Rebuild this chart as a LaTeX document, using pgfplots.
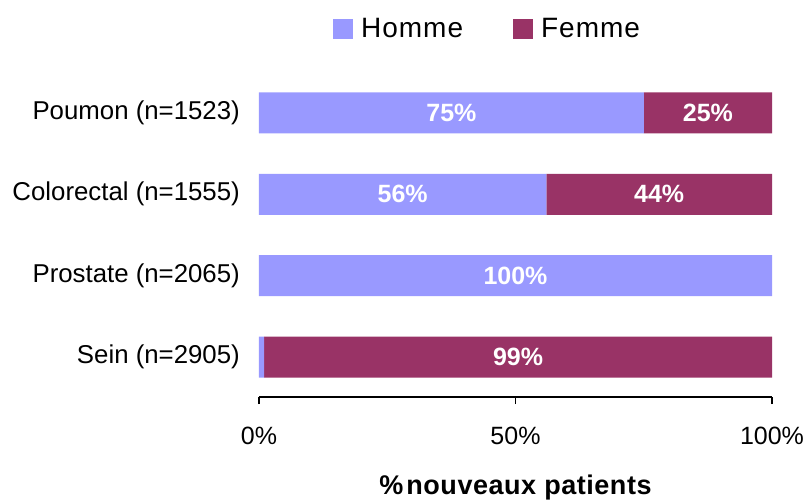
\documentclass[border=0pt]{standalone}
\usepackage{pgfplots}
\pgfplotsset{compat=1.18}
\usepackage{pgfplotstable}
\usepackage{fontspec}
\setmainfont{Liberation Sans}

\definecolor{homme}{HTML}{9999FF}
\definecolor{femme}{HTML}{993366}

% rows from bottom to top
\pgfplotstableread{
pos Homme Femme LH LF
0 1 99 {} {99\%}
1 100 0 {100\%} {}
2 56 44 {56\%} {44\%}
3 75 25 {75\%} {25\%}
}\cancers

\begin{document}
\fontsize{25bp}{30bp}\selectfont
\begin{tikzpicture}
\useasboundingbox (-259bp,-103bp) rectangle (548bp,397bp);
\begin{axis}[
    at={(0,0)}, anchor=south west,
    scale only axis,
    width=513bp, height=324bp,
    xbar stacked,
    bar width=41bp,
    xmin=0, xmax=100,
    ymin=-0.49, ymax=3.49,
    axis x line*=bottom,
    axis y line*=left,
    y axis line style={draw=none},
    x axis line style={black, line width=1.2bp, -},
    tick align=outside,
    major tick length=7bp,
    xtick={0,50,100},
    xticklabels={0\%,50\%,100\%},
    xtick style={black, line width=1.2bp},
    ytick={0,1,2,3},
    yticklabels={Sein (n=2905),Prostate (n=2065),Colorectal (n=1555),Poumon (n=1523)},
    ytick style={draw=none},
    yticklabel style={anchor=east, inner sep=0pt, xshift=-12bp,
        font=\fontsize{25.8bp}{30bp}\selectfont},
    xticklabel style={anchor=base, inner sep=0pt, yshift=-40bp},
    xlabel={\%\hspace{3bp}nouveaux patients},
    xlabel style={at={(axis description cs:0.5,0)}, anchor=base, inner sep=0pt, yshift=-97bp,
        font=\fontsize{27bp}{30bp}\selectfont\bfseries\addfontfeatures{LetterSpace=2}},
    legend columns=2,
    legend style={
        draw=none, fill=none, inner sep=0pt,
        at={(axis description cs:0.1443,1.135)}, anchor=west,
        font=\fontsize{28bp}{32bp}\selectfont\addfontfeatures{LetterSpace=3.5},
        nodes={inner sep=0pt},
        /tikz/every odd column/.append style={column sep=8bp},
        /tikz/every even column/.append style={column sep=50bp},
    },
    legend image code/.code={\fill[#1] (0bp,-10bp) rectangle (20bp,10bp);},
    every node near coord/.append style={anchor=center, text=white, font=\bfseries},
]
\addplot[fill=homme, draw=none, point meta=explicit symbolic, nodes near coords]
    table[x=Homme, y=pos, meta=LH] {\cancers};
\addlegendentry{Homme}
\addplot[fill=femme, draw=none, point meta=explicit symbolic, nodes near coords]
    table[x=Femme, y=pos, meta=LF] {\cancers};
\addlegendentry{Femme}
\end{axis}
\end{tikzpicture}
\end{document}
